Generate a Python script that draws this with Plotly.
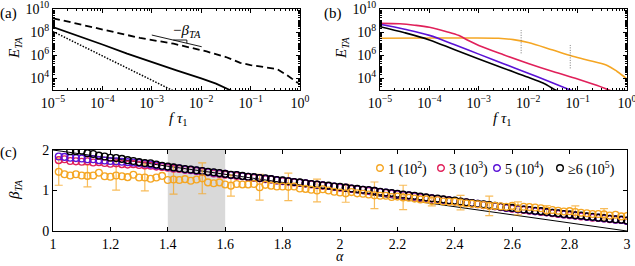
import numpy as np
import plotly.graph_objects as go

W, H = 635, 266
FONT = "Liberation Serif"

# ---------------- Panel (a) ----------------
a_dashed_logf = [-5, -4, -3.24, -2.56, -1.89, -1.5, -1.21, -1.0, -0.67, -0.47, -0.27, -0.04]
a_dashed_logE = [9.2, 8.27, 7.5, 7.0, 6.33, 5.85, 5.35, 5.15, 4.98, 4.82, 4.3, 3.6]
a_solid_logf = [-5, -4.5, -4, -3.5, -3, -2.5, -2, -1.7, -1.42, -1.35]
a_solid_logE = [8.44, 7.7, 6.93, 6.15, 5.4, 4.7, 4.0, 3.55, 3.0, 2.85]
a_dotted_logf = [-5, -4.5, -4, -3.5, -3, -2.6, -2.55]
a_dotted_logE = [8.05, 7.0, 5.95, 4.95, 3.9, 3.0, 2.9]
slope_logf = [-3.0, -1.99]
slope_logE = [7.75, 6.74]
tri_logf = [-2.565, -2.29, -2.29]
tri_logE = [7.32, 7.32, 7.04]

# ---------------- Panel (b) ----------------
b_black_logf = [-5, -4.5, -4, -3.5, -3, -2.5, -2, -1.7, -1.45, -1.4]
b_black_logE = [8.47, 7.95, 7.33, 6.5, 5.68, 4.88, 4.1, 3.6, 3.0, 2.9]
b_purple_logf = [-5, -4.5, -4, -3.5, -3, -2.5, -2, -1.5, -1.15, -1.1]
b_purple_logE = [8.68, 8.25, 7.72, 6.93, 6.1, 5.27, 4.45, 3.6, 3.0, 2.92]
b_red_logf = [-5, -4.6, -4.3, -4, -3.65, -3.4, -3.2, -3, -2.5, -2, -1.5, -1, -0.6, -0.37, -0.3]
b_red_logE = [8.76, 8.72, 8.6, 8.42, 8.04, 7.7, 7.25, 6.85, 6.05, 5.3, 4.6, 3.95, 3.38, 3.0, 2.9]
b_orange_logf = [-5, -4, -3.2, -2.6, -2.3, -2, -1.5, -1.1, -0.7, -0.4, -0.2, 0]
b_orange_logE = [7.47, 7.5, 7.5, 7.47, 7.35, 7.1, 6.45, 5.92, 5.48, 5.12, 4.6, 3.95]
tau_marks_f = [0.0072, 0.071]
tau_marks_lo = [6.17, 4.87]
tau_marks_hi = [8.18, 6.89]

# ---------------- Panel (c) ----------------
alpha = [round(1.02 + 0.02 * i, 2) for i in range(100)]
beta_orange = [1.46, 1.40, 1.37, 1.40, 1.37, 1.36, 1.37, 1.44, 1.35, 1.34,
               1.37, 1.35, 1.33, 1.39, 1.32, 1.32, 1.29, 1.32, 1.36, 1.26,
               1.27, 1.26, 1.28, 1.24, 1.27, 1.30, 1.20, 1.18, 1.20, 1.15,
               1.12, 1.16, 1.15, 1.15, 1.16, 1.08, 1.14, 1.12, 1.10, 1.10,
               1.09, 1.10, 1.05, 1.04, 1.02, 1.00, 1.03, 1.00, 0.97, 0.95,
               0.93, 0.96, 0.93, 0.92, 0.90, 0.88, 0.87, 0.87, 0.84, 0.85,
               0.83, 0.82, 0.80, 0.78, 0.78, 0.74, 0.76, 0.73, 0.72, 0.72,
               0.70, 0.68, 0.67, 0.66, 0.64, 0.62, 0.62, 0.61, 0.60, 0.62,
               0.56, 0.60, 0.59, 0.58, 0.56, 0.51, 0.52, 0.50, 0.48, 0.49,
               0.47, 0.45, 0.44, 0.42, 0.42, 0.41, 0.38, 0.40, 0.36, 0.37]
beta_red = [1.75, 1.77, 1.73, 1.72, 1.71, 1.72, 1.69, 1.70, 1.68, 1.66,
            1.67, 1.65, 1.64, 1.65, 1.63, 1.62, 1.61, 1.59, 1.58, 1.56,
            1.54, 1.53, 1.51, 1.50, 1.48, 1.46, 1.45, 1.42, 1.41, 1.39,
            1.38, 1.36, 1.35, 1.33, 1.31, 1.30, 1.28, 1.27, 1.25, 1.23,
            1.22, 1.20, 1.19, 1.17, 1.15, 1.14, 1.12, 1.11, 1.09, 1.07,
            1.06, 1.04, 1.03, 1.01, 0.99, 0.98, 0.96, 0.94, 0.92, 0.91,
            0.89, 0.87, 0.85, 0.83, 0.82, 0.80, 0.78, 0.77, 0.75, 0.73,
            0.71, 0.70, 0.68, 0.66, 0.64, 0.63, 0.61, 0.59, 0.57, 0.55,
            0.54, 0.52, 0.50, 0.49, 0.47, 0.46, 0.44, 0.42, 0.41, 0.39,
            0.38, 0.36, 0.35, 0.33, 0.32, 0.31, 0.29, 0.28, 0.27, 0.25]
beta_purple = [1.84, 1.83, 1.81, 1.80, 1.79, 1.77, 1.77, 1.75, 1.74, 1.73,
               1.72, 1.71, 1.70, 1.69, 1.68, 1.66, 1.64, 1.62, 1.60, 1.58,
               1.56, 1.55, 1.52, 1.51, 1.49, 1.48, 1.45, 1.44, 1.42, 1.41,
               1.38, 1.38, 1.35, 1.34, 1.32, 1.31, 1.29, 1.28, 1.25, 1.24,
               1.23, 1.21, 1.19, 1.18, 1.16, 1.14, 1.13, 1.11, 1.10, 1.08,
               1.07, 1.05, 1.03, 1.02, 1.00, 0.99, 0.96, 0.95, 0.93, 0.91,
               0.89, 0.88, 0.86, 0.84, 0.82, 0.81, 0.79, 0.77, 0.76, 0.74,
               0.72, 0.70, 0.69, 0.67, 0.65, 0.63, 0.61, 0.60, 0.57, 0.56,
               0.54, 0.53, 0.51, 0.49, 0.48, 0.46, 0.45, 0.43, 0.41, 0.40,
               0.38, 0.37, 0.35, 0.34, 0.33, 0.31, 0.30, 0.28, 0.27, 0.25]
alpha_black = alpha[2:]
beta_black = [1.97, 1.97, 1.98, 1.92, 1.90, 1.86, 1.84, 1.81, 1.80, 1.78,
              1.75, 1.73, 1.70, 1.68, 1.67, 1.64, 1.61, 1.59,
              1.57, 1.55, 1.53, 1.52, 1.50, 1.48, 1.46, 1.45, 1.43, 1.41,
              1.39, 1.38, 1.36, 1.34, 1.33, 1.31, 1.30, 1.28, 1.26, 1.25,
              1.23, 1.21, 1.20, 1.18, 1.16, 1.15, 1.13, 1.12, 1.10, 1.09,
              1.07, 1.05, 1.04, 1.02, 1.01, 0.99, 0.97, 0.95, 0.94, 0.92,
              0.90, 0.88, 0.87, 0.85, 0.83, 0.81, 0.80, 0.78, 0.76, 0.75,
              0.73, 0.71, 0.69, 0.67, 0.66, 0.64, 0.62, 0.60, 0.58, 0.57,
              0.55, 0.53, 0.52, 0.50, 0.49, 0.47, 0.45, 0.44, 0.42, 0.41,
              0.39, 0.38, 0.36, 0.35, 0.33, 0.32, 0.30, 0.29, 0.28, 0.26]
err_alpha = [1.02, 1.12, 1.22, 1.32, 1.42, 1.52, 1.62, 1.72, 1.82, 1.92,
             2.02, 2.12, 2.22, 2.32, 2.42, 2.52, 2.62, 2.72, 2.82, 2.92]
err_half = [0.33, 0.27, 0.36, 0.33, 0.36, 0.38, 0.26, 0.32, 0.34, 0.28,
            0.22, 0.33, 0.30, 0.12, 0.18, 0.24, 0.16, 0.12, 0.15, 0.14]
theory_alpha = [1, 3]
theory_beta = [2, 0]
shade_range = [1.4, 1.6]

legend_labels = ["1 (10<sup>2</sup>)", "3 (10<sup>3</sup>)", "5 (10<sup>4</sup>)", "≥6 (10<sup>5</sup>)"]

ORANGE = "#F5A623"
RED = "#E0205A"
PURPLE = "#5A12D6"
BLACK = "#000000"

xlog_ticks = [1e-5, 1e-4, 1e-3, 1e-2, 1e-1, 1]
xlog_text = ["10<sup>−5</sup>", "10<sup>−4</sup>", "10<sup>−3</sup>", "10<sup>−2</sup>", "10<sup>−1</sup>", "10<sup>0</sup>"]
ylog_ticks = [1e4, 1e6, 1e8, 1e10]
ylog_text = ["10<sup>4</sup>", "10<sup>6</sup>", "10<sup>8</sup>", "10<sup>10</sup>"]
c_xticks = [1, 1.2, 1.4, 1.6, 1.8, 2, 2.2, 2.4, 2.6, 2.8, 3]
c_xtext = ["1", "1.2", "1.4", "1.6", "1.8", "2", "2.2", "2.4", "2.6", "2.8", "3"]
c_yticks = [0, 1, 2]


def p10(v):
    return 10 ** np.array(v, dtype=float)


fig = go.Figure()

# panel (a)
fig.add_trace(go.Scatter(x=p10(a_dashed_logf), y=p10(a_dashed_logE), mode="lines",
                         line=dict(color="black", width=1.8, dash="7px,4px"), xaxis="x", yaxis="y"))
fig.add_trace(go.Scatter(x=p10(a_solid_logf), y=p10(a_solid_logE), mode="lines",
                         line=dict(color="black", width=1.8), xaxis="x", yaxis="y"))
fig.add_trace(go.Scatter(x=p10(a_dotted_logf), y=p10(a_dotted_logE), mode="lines",
                         line=dict(color="black", width=1.5, dash="1.5px,1.5px"), xaxis="x", yaxis="y"))
fig.add_trace(go.Scatter(x=p10(slope_logf), y=p10(slope_logE), mode="lines",
                         line=dict(color="black", width=0.9), xaxis="x", yaxis="y"))
fig.add_trace(go.Scatter(x=p10(tri_logf), y=p10(tri_logE), mode="lines",
                         line=dict(color="black", width=0.9), xaxis="x", yaxis="y"))

# panel (b)
for lf, le, col in [(b_orange_logf, b_orange_logE, ORANGE),
                    (b_red_logf, b_red_logE, RED),
                    (b_purple_logf, b_purple_logE, PURPLE),
                    (b_black_logf, b_black_logE, BLACK)]:
    fig.add_trace(go.Scatter(x=p10(lf), y=p10(le), mode="lines", line_shape="spline",
                             line=dict(color=col, width=1.6), xaxis="x2", yaxis="y2"))
for f, lo, hi in zip(tau_marks_f, tau_marks_lo, tau_marks_hi):
    fig.add_trace(go.Scatter(x=[f, f], y=p10([lo, hi]), mode="lines",
                             line=dict(color="#777777", width=1, dash="1px,1.5px"),
                             xaxis="x2", yaxis="y2"))

# panel (c)
fig.add_trace(go.Scatter(x=theory_alpha, y=theory_beta, mode="lines",
                         line=dict(color="black", width=1), xaxis="x3", yaxis="y3"))
err_center = [beta_orange[alpha.index(a)] for a in err_alpha]
fig.add_trace(go.Scatter(x=err_alpha, y=err_center, mode="markers",
                         marker=dict(size=1, color="rgba(0,0,0,0)"),
                         error_y=dict(type="data", array=err_half, color="rgba(245,166,35,0.75)",
                                      thickness=1.2, width=4),
                         xaxis="x3", yaxis="y3"))
mk = dict(symbol="circle-open", size=6.8, line=dict(width=1.3))
fig.add_trace(go.Scatter(x=alpha, y=beta_red, mode="markers",
                         marker=dict(mk, color=RED), xaxis="x3", yaxis="y3"))
fig.add_trace(go.Scatter(x=alpha, y=beta_purple, mode="markers",
                         marker=dict(mk, color=PURPLE), xaxis="x3", yaxis="y3"))
fig.add_trace(go.Scatter(x=alpha_black, y=beta_black, mode="markers",
                         marker=dict(mk, color=BLACK), xaxis="x3", yaxis="y3"))
fig.add_trace(go.Scatter(x=alpha, y=beta_orange, mode="markers",
                         marker=dict(mk, color=ORANGE), xaxis="x3", yaxis="y3"))


def px(x):
    return x / W


def py(y):
    return 1 - y / H


axis_common = dict(showline=True, linecolor="black", linewidth=1, mirror="ticks",
                   ticks="inside", ticklen=4, tickcolor="black", showgrid=False, zeroline=False,
                   automargin=False, ticklabeloverflow="allow",
                   tickfont=dict(family=FONT, size=14, color="black"))
minor_log = dict(ticks="inside", ticklen=2, tickcolor="black", dtick="D1", showgrid=False)

fig.update_layout(
    width=W, height=H, margin=dict(l=0, r=0, t=0, b=0),
    paper_bgcolor="white", plot_bgcolor="white", showlegend=False,
    font=dict(family=FONT, size=14, color="black"),
    xaxis=dict(axis_common, type="log", domain=[px(53), px(300)], range=[-5, 0],
               tickvals=xlog_ticks, ticktext=xlog_text, minor=minor_log, anchor="y"),
    yaxis=dict(axis_common, type="log", domain=[py(90), py(9)], range=[3, 10],
               tickvals=ylog_ticks, ticktext=ylog_text, minor=minor_log, anchor="x"),
    xaxis2=dict(axis_common, type="log", domain=[px(380), px(627)], range=[-5, 0],
                tickvals=xlog_ticks, ticktext=xlog_text, minor=minor_log, anchor="y2"),
    yaxis2=dict(axis_common, type="log", domain=[py(90), py(9)], range=[3, 10],
                tickvals=ylog_ticks, ticktext=ylog_text, minor=minor_log, anchor="x2"),
    xaxis3=dict(axis_common, domain=[px(53), px(627)], range=[1, 3],
                tickvals=c_xticks, ticktext=c_xtext, anchor="y3"),
    yaxis3=dict(axis_common, domain=[py(231), py(150)], range=[0, 2],
                tickvals=c_yticks, anchor="x3"),
)

fig.add_shape(type="rect", xref="x3", yref="y3 domain", x0=shade_range[0], x1=shade_range[1],
              y0=0, y1=1, fillcolor="#d9d9d9", line=dict(width=0), layer="below")

# legend for panel (c)
leg_cols = [ORANGE, RED, PURPLE, BLACK]
leg_marker_x = [380, 441, 497, 560]
leg_text_x = [386, 447, 503, 566]
leg_y = 168
for lab, col, mx, tx in zip(legend_labels, leg_cols, leg_marker_x, leg_text_x):
    fig.add_shape(type="circle", xref="paper", yref="paper", xsizemode="pixel", ysizemode="pixel",
                  xanchor=px(mx), yanchor=py(leg_y), x0=-3.3, x1=3.3, y0=-3.3, y1=3.3,
                  line=dict(color=col, width=1.4), fillcolor="rgba(0,0,0,0)")
    fig.add_annotation(x=px(tx), y=py(leg_y), xref="paper", yref="paper", text=lab,
                       showarrow=False, xanchor="left", yanchor="middle",
                       font=dict(family=FONT, size=14, color="black"))

ann = [
    ("(a)", 8, 14, 0, "middle", 15),
    ("(b)", 333, 14, 0, "middle", 15),
    ("(c)", 8, 152, 0, "middle", 15),
    ("<i>E</i><sub><i>TA</i></sub>", 15, 48, -90, "middle", 15),
    ("<i>E</i><sub><i>TA</i></sub>", 342, 48, -90, "middle", 15),
    ("<i>β</i><sub><i>TA</i></sub>", 15, 190, -90, "middle", 15),
    ("<i>f τ</i><sub>1</sub>", 178, 119, 0, "middle", 15),
    ("<i>f τ</i><sub>1</sub>", 503, 119, 0, "middle", 15),
    ("<i>α</i>", 340, 266, 0, "bottom", 14),
    ("−<i>β</i><sub><i>TA</i></sub>", 187, 31, 0, "middle", 15),
]
for text, x, y, ang, ya, fs in ann:
    fig.add_annotation(x=px(x), y=py(y), xref="paper", yref="paper", text=text, showarrow=False,
                       textangle=ang, xanchor="center", yanchor=ya,
                       font=dict(family=FONT, size=fs, color="black"))

fig.write_html("out.html", config={"displayModeBar": False},
               post_script="document.body.style.margin='0';document.body.style.padding='0';")
